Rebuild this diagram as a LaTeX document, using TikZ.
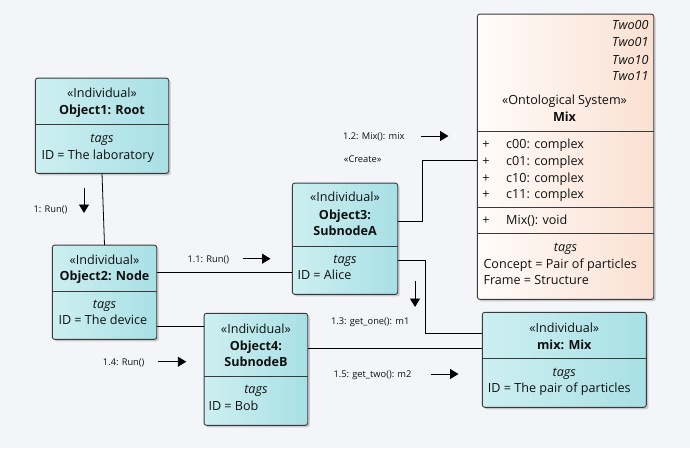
\documentclass[tikz,border=0pt]{standalone}
\usepackage{fontspec}
\setmainfont{Open Sans}
\usetikzlibrary{arrows.meta,shadows}
\definecolor{bg}{HTML}{F3F5F9}
\definecolor{cyanL}{HTML}{CDEFF1}
\definecolor{cyanR}{HTML}{A8E0E5}
\definecolor{peachL}{HTML}{FFFCFA}
\definecolor{peachR}{HTML}{FAE0D2}
\definecolor{bord}{HTML}{3A3A3A}
\definecolor{txt}{HTML}{101010}
\tikzset{
  boxbase/.style={draw=bord, line width=0.9pt, rounded corners=2.5pt, inner sep=0pt, outer sep=0pt,
    drop shadow={shadow xshift=2pt, shadow yshift=-2pt, opacity=0.18, fill=black}},
  objbox/.style={boxbase, left color=cyanL, right color=cyanR},
  clsbox/.style={boxbase, left color=peachL, right color=peachR},
  divline/.style={draw=bord, line width=0.8pt},
  tx/.style={inner sep=0pt, text height=0.72em, text depth=0pt, text=txt, font=\fontsize{12.6}{14}\selectfont},
  txb/.style={tx, font=\fontsize{12.6}{14}\selectfont\bfseries},
  txi/.style={tx, font=\fontsize{12.6}{14}\selectfont\itshape},
  msg/.style={inner sep=0pt, text height=0.72em, text depth=0pt, text=txt, font=\fontsize{9.3}{10}\selectfont},
  conn/.style={draw=black, line width=0.8pt},
  msgarrow/.style={draw=black, line width=0.9pt, -{Triangle[length=8.5pt,width=10pt]}}
}
\begin{document}
\begin{tikzpicture}[x=1pt,y=-1pt]
\fill[bg] (0,0) rectangle (690,448);
\useasboundingbox (0,0) rectangle (690,448);

% boxes
\node[objbox, minimum width=133.4pt, minimum height=95.3pt] (o1) at (102,125.7) {};
\node[objbox, minimum width=104.4pt, minimum height=94.3pt] (o2) at (104.5,292.2) {};
\node[objbox, minimum width=105.4pt, minimum height=111.3pt] (o3) at (345,238.7) {};
\node[objbox, minimum width=103.7pt, minimum height=112pt] (o4) at (255.9,369.3) {};
\node[objbox, minimum width=164pt, minimum height=95pt] (mixo) at (564.3,359.8) {};
\node[clsbox, minimum width=176.4pt, minimum height=285.3pt] (mixc) at (565.5,156.7) {};

% dividers
\draw[divline] (o1.west |- 0,124.3) -- (o1.east |- 0,124.3);
\draw[divline] (o2.west |- 0,291) -- (o2.east |- 0,291);
\draw[divline] (o3.west |- 0,246.3) -- (o3.east |- 0,246.3);
\draw[divline] (o4.west |- 0,376.3) -- (o4.east |- 0,376.3);
\draw[divline] (mixo.west |- 0,358.3) -- (mixo.east |- 0,358.3);
\draw[divline] (mixc.west |- 0,131.3) -- (mixc.east |- 0,131.3);
\draw[divline] (mixc.west |- 0,207.3) -- (mixc.east |- 0,207.3);
\draw[divline] (mixc.west |- 0,233.3) -- (mixc.east |- 0,233.3);

% Object1
\node[tx] (o1s) at (102,94.3) {«Individual»};
\node[txb] (o1n) at (102,111.3) {Object1: Root};
\node[txi] (o1t) at (102,138.7) {tags};
\node[tx, anchor=west] (o1v) at (41.3,155.7) {ID = The laboratory};
% Object2
\node[tx] (o2s) at (104.5,260.7) {«Individual»};
\node[txb] (o2n) at (104.5,277.3) {Object2: Node};
\node[txi] (o2t) at (104.5,304.7) {tags};
\node[tx, anchor=west] (o2v) at (58.3,321.3) {ID = The device};
% Object3
\node[tx] (o3s) at (345,198.3) {«Individual»};
\node[txb] (o3n) at (345,215.7) {Object3:};
\node[txb] (o3m) at (345,232.3) {SubnodeA};
\node[txi] (o3t) at (345,259.7) {tags};
\node[tx, anchor=west] (o3v) at (297.3,276) {ID = Alice};
% Object4
\node[tx] (o4s) at (255.9,330) {«Individual»};
\node[txb] (o4n) at (255.9,346.7) {Object4:};
\node[txb] (o4m) at (255.9,363.3) {SubnodeB};
\node[txi] (o4t) at (255.9,390.3) {tags};
\node[tx, anchor=west] (o4v) at (208.3,407.3) {ID = Bob};
% mix
\node[tx] (mxs) at (564.3,329.3) {«Individual»};
\node[txb] (mxn) at (564.3,346) {mix: Mix};
\node[txi] (mxt) at (564.3,372.7) {tags};
\node[tx, anchor=west] (mxv) at (487.7,389.3) {ID = The pair of particles};
% Mix class
\node[txi, anchor=east] (t00) at (648.7,26) {Two00};
\node[txi, anchor=east] (t01) at (648.7,43.3) {Two01};
\node[txi, anchor=east] (t10) at (648.7,60.7) {Two10};
\node[txi, anchor=east] (t11) at (648.7,77.3) {Two11};
\node[tx] (mcs) at (564.5,101) {«Ontological System»};
\node[txb] (mcn) at (564.5,117.7) {Mix};
\node[tx] (p1) at (486,144.7) {+};
\node[tx] (p2) at (486,161.7) {+};
\node[tx] (p3) at (486,178.7) {+};
\node[tx] (p4) at (486,195.3) {+};
\node[tx] (p5) at (486,221.3) {+};
\node[tx, anchor=west] (a1) at (506,144.7) {c00: complex};
\node[tx, anchor=west] (a2) at (506,161.7) {c01: complex};
\node[tx, anchor=west] (a3) at (506,178.7) {c10: complex};
\node[tx, anchor=west] (a4) at (506,195.3) {c11: complex};
\node[tx, anchor=west] (op) at (506,221.3) {Mix(): void};
\node[txi] (mct) at (565.5,247.7) {tags};
\node[tx, anchor=west] (mc1) at (483.3,264.7) {Concept = Pair of particles};
\node[tx, anchor=west] (mc2) at (483.3,281.3) {Frame = Structure};

% connectors
\draw[conn] (o1.south) -- (o2.north);
\draw[conn] (o2.east |- 0,272) -- (o3.west |- 0,272);
\draw[conn] (o2.east |- 0,326.7) -- (o4.west |- 0,326.7);
\draw[conn] (o3.east |- 0,221) -- (422.3,221) |- (mixc.west |- 0,160.3);
\draw[conn] (o3.east |- 0,260.3) -- (425.3,260.3) |- (mixo.west |- 0,333);
\draw[conn] (o4.east |- 0,348.3) -- (mixo.west |- 0,348.3);

% messages
\coordinate (m1a) at (84,187.7); \coordinate (m1b) at (84,213);
\draw[msgarrow] (m1a) -- (m1b);
\node[msg] (m1) at (50.5,209.3) {1: Run()};
\coordinate (m11a) at (242.7,258.7); \coordinate (m11b) at (270.5,258.7);
\draw[msgarrow] (m11a) -- (m11b);
\node[msg] (m11) at (208.3,258.7) {1.1: Run()};
\coordinate (m12a) at (421,136); \coordinate (m12b) at (448.5,136);
\draw[msgarrow] (m12a) -- (m12b);
\node[msg] (m12) at (373.8,136) {1.2: Mix(): mix};
\node[msg] (cr) at (362.7,158.7) {«Create»};
\coordinate (m13a) at (415,281); \coordinate (m13b) at (415,307);
\draw[msgarrow] (m13a) -- (m13b);
\node[msg] (m13) at (370.2,320.7) {1.3: get\_one(): m1};
\coordinate (m14a) at (158.3,361.7); \coordinate (m14b) at (186.3,361.7);
\draw[msgarrow] (m14a) -- (m14b);
\node[msg] (m14) at (123.7,361.7) {1.4: Run()};
\coordinate (m15a) at (430.7,374); \coordinate (m15b) at (458.5,374);
\draw[msgarrow] (m15a) -- (m15b);
\node[msg] (m15) at (372.5,374) {1.5: get\_two(): m2};
\end{tikzpicture}
\end{document}
